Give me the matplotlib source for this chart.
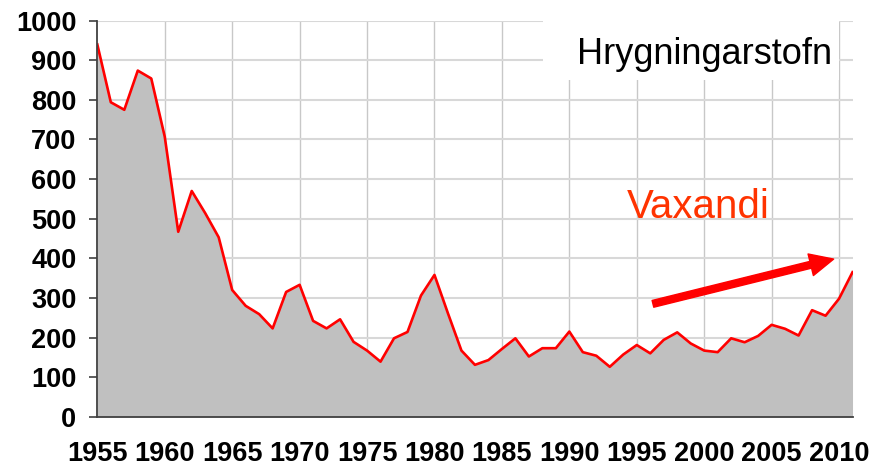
import numpy as np
import matplotlib
matplotlib.use("Agg")
import matplotlib.pyplot as plt
from matplotlib.patches import Rectangle


# Hrygningarstofn
years = np.arange(1955, 2012)

stock = [
    940, 794, 775, 874, 854, 707, 467, 570, 514, 453,
    320, 280, 259, 223, 315, 333, 242, 223, 246, 189,
    167, 139, 198, 214, 306, 358, 261, 167, 131, 143,
    171, 198, 152, 173, 173, 215, 163, 154, 126, 157,
    181, 160, 194, 213, 185, 167, 163, 198, 188, 204,
    232, 222, 205, 269, 255, 298, 365,
]

x_ticks = list(range(1955, 2011, 5))
y_ticks = list(range(0, 1001, 100))

title_text = "Hrygningarstofn"
trend_text = "Vaxandi"

# trend arrow (year, value)
arrow_start = (1996.2, 285)
arrow_end = (2009.6, 398)


fig = plt.figure(figsize=(8.84, 4.68), dpi=100)
ax = fig.add_axes([0.1101, 0.1096, 0.8543, 0.8462])

ax.set_axisbelow(True)

ax.fill_between(years, stock, 0, color="#c0c0c0", linewidth=0, zorder=2)
ax.plot(years, stock, color="#ff0000", linewidth=1.9, zorder=3)

ax.set_xlim(1955, 2011)
ax.set_ylim(0, 1000)

ax.set_xticks(x_ticks)
ax.set_yticks(y_ticks)

for x in x_ticks[1:]:
    ax.axvline(x, color="#c8c8c8", linewidth=1.0, zorder=0.5)
for y in y_ticks[1:]:
    ax.axhline(y, color="#d8d8d8", linewidth=1.5, zorder=0.5)

for s in ["top", "right"]:
    ax.spines[s].set_visible(False)
for s in ["left", "bottom"]:
    ax.spines[s].set_color("#404040")
    ax.spines[s].set_linewidth(1.3)
    ax.spines[s].set_zorder(4)

tick_font = {"family": "Liberation Sans", "weight": "bold", "size": 19.5}
ax.set_xticklabels([str(v) for v in x_ticks], fontdict=tick_font)
ax.set_yticklabels([str(v) for v in y_ticks], fontdict=tick_font)
ax.tick_params(axis="x", length=0, pad=17.5)
ax.tick_params(axis="y", length=6, width=1.2, color="#404040", pad=9)

# white box behind the title
ax.add_patch(Rectangle((0.590, 0.850), 0.392, 0.152, transform=ax.transAxes,
                       facecolor="white", edgecolor="none", zorder=1,
                       clip_on=False))
ax.text(0.9729, 0.8907, title_text, transform=ax.transAxes,
        ha="right", va="baseline", fontsize=26, family="Liberation Sans",
        color="black", zorder=5)

ax.text(0.701, 0.501, trend_text, transform=ax.transAxes,
        ha="left", va="baseline", fontsize=29, family="Liberation Sans",
        color="#ff3300", zorder=5)

ax.annotate("", xy=arrow_end, xytext=arrow_start,
            arrowprops=dict(width=5, headwidth=16, headlength=17,
                            color="#ff0000", shrink=0),
            zorder=5)

plt.savefig("out.png", dpi=100)
